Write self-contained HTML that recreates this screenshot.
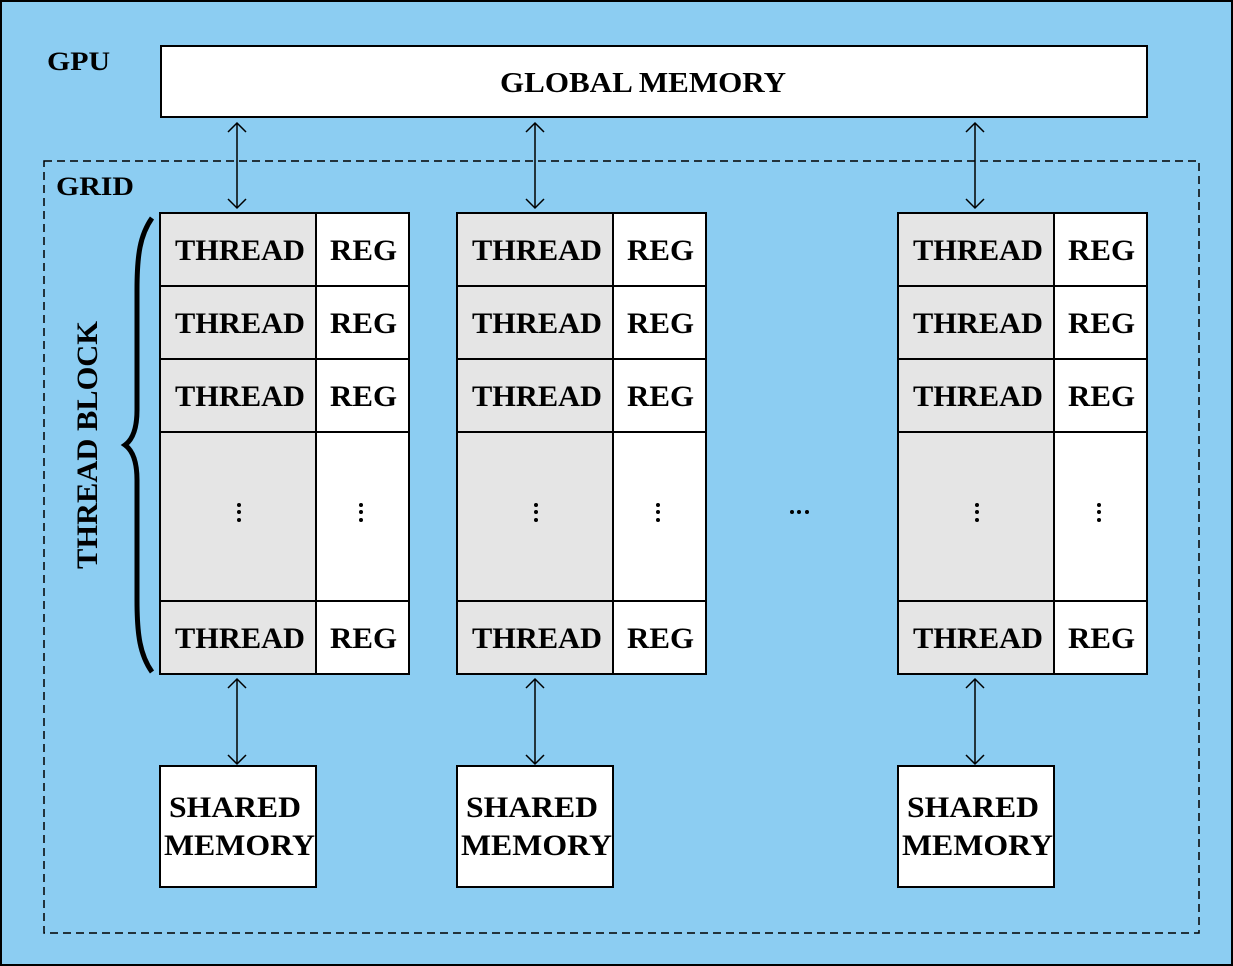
<!DOCTYPE html>
<html><head><meta charset="utf-8"><style>html,body{margin:0;padding:0;background:#8ccdf2}svg{display:block}text{font-family:"Liberation Serif",serif;font-weight:bold;fill:#000}</style></head><body>
<svg width="1233" height="966" viewBox="0 0 1233 966" xmlns="http://www.w3.org/2000/svg">
<defs>
<g id="blk">
<rect x="0" y="0" width="156" height="461" fill="#e5e5e5"/>
<rect x="156" y="0" width="93" height="461" fill="#fff"/>
<g stroke="#000" stroke-width="2" fill="none">
<rect x="0" y="0" width="249" height="461"/>
<line x1="156" y1="0" x2="156" y2="461"/>
<line x1="0" y1="73" x2="249" y2="73"/>
<line x1="0" y1="146" x2="249" y2="146"/>
<line x1="0" y1="219" x2="249" y2="219"/>
<line x1="0" y1="388" x2="249" y2="388"/>
</g>
<g font-size="30">
<text x="15" y="47" textLength="130" lengthAdjust="spacingAndGlyphs">THREAD</text><text x="170" y="47" textLength="67" lengthAdjust="spacingAndGlyphs">REG</text>
<text x="15" y="120" textLength="130" lengthAdjust="spacingAndGlyphs">THREAD</text><text x="170" y="120" textLength="67" lengthAdjust="spacingAndGlyphs">REG</text>
<text x="15" y="193" textLength="130" lengthAdjust="spacingAndGlyphs">THREAD</text><text x="170" y="193" textLength="67" lengthAdjust="spacingAndGlyphs">REG</text>
<text x="15" y="435" textLength="130" lengthAdjust="spacingAndGlyphs">THREAD</text><text x="170" y="435" textLength="67" lengthAdjust="spacingAndGlyphs">REG</text>
</g>
<g fill="#000"><circle cx="79" cy="292" r="2"/><circle cx="79" cy="299" r="2"/><circle cx="79" cy="307" r="2"/>
<circle cx="201" cy="292" r="2"/><circle cx="201" cy="299" r="2"/><circle cx="201" cy="307" r="2"/></g>
</g>
<g id="sh">
<rect x="0" y="0" width="156" height="121" fill="#fff" stroke="#000" stroke-width="2"/>
<text x="9" y="51" font-size="30" textLength="132" lengthAdjust="spacingAndGlyphs">SHARED</text>
<text x="4" y="89" font-size="30" textLength="151" lengthAdjust="spacingAndGlyphs">MEMORY</text>
</g>
<g id="arr" stroke="#000" stroke-width="1.5" fill="none">
<line x1="0" y1="0" x2="0" y2="85"/>
<polyline points="-9,9 0,0 9,9"/><polyline points="-9,76 0,85 9,76"/>
</g>
</defs>
<rect x="1" y="1" width="1231" height="964" fill="#8ccdf2" stroke="#000" stroke-width="2"/>
<text x="47" y="70" font-size="26" textLength="63" lengthAdjust="spacingAndGlyphs">GPU</text>
<rect x="161" y="46" width="986" height="71" fill="#fff" stroke="#000" stroke-width="2"/>
<text x="500" y="92" font-size="28" textLength="286" lengthAdjust="spacingAndGlyphs">GLOBAL MEMORY</text>
<rect x="44" y="161" width="1155" height="772" fill="none" stroke="#000" stroke-width="1.5" stroke-dasharray="8,5"/>
<text x="56" y="195" font-size="26" textLength="78" lengthAdjust="spacingAndGlyphs">GRID</text>
<use href="#blk" x="160" y="213"/>
<use href="#blk" x="457" y="213"/>
<use href="#blk" x="898" y="213"/>
<use href="#sh" x="160" y="766"/>
<use href="#sh" x="457" y="766"/>
<use href="#sh" x="898" y="766"/>
<use href="#arr" x="237" y="123"/>
<use href="#arr" x="535" y="123"/>
<use href="#arr" x="975" y="123"/>
<use href="#arr" x="237" y="679"/>
<use href="#arr" x="535" y="679"/>
<use href="#arr" x="975" y="679"/>
<g fill="#000"><circle cx="792" cy="512" r="2"/><circle cx="799" cy="512" r="2"/><circle cx="807" cy="512" r="2"/></g>
<path d="M152,218 C140,235 137,255 137,290 L137,410 C137,430 132,440 125,445 C132,450 137,460 137,480 L137,600 C137,635 140,655 152,672" fill="none" stroke="#000" stroke-width="5"/>
<text transform="translate(97,445) rotate(-90)" font-size="30" text-anchor="middle" textLength="248" lengthAdjust="spacingAndGlyphs">THREAD BLOCK</text>
</svg>
</body></html>
